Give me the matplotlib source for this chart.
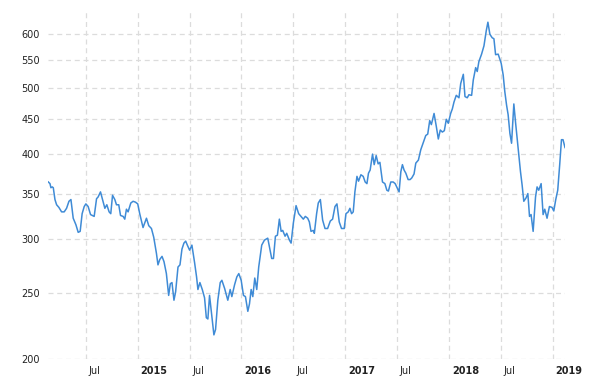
import matplotlib as mpl
mpl.use('Agg')
import numpy as np
import matplotlib.pyplot as plt
from matplotlib.transforms import ScaledTranslation

mpl.rcParams.update({
    'font.family': 'DejaVu Sans',
    'font.size': 7,
})

# time as decimal year, price
t_year = [
    2014.138, 2014.154, 2014.163, 2014.176, 2014.186, 2014.202, 2014.218, 2014.240,
    2014.266, 2014.291, 2014.314, 2014.337, 2014.356, 2014.378, 2014.404, 2014.426,
    2014.445, 2014.464, 2014.484, 2014.500, 2014.522, 2014.545, 2014.580, 2014.603,
    2014.618, 2014.641, 2014.661, 2014.683, 2014.702, 2014.724, 2014.740, 2014.757,
    2014.779, 2014.795, 2014.817, 2014.834, 2014.859, 2014.875, 2014.891, 2014.907,
    2014.933, 2014.955, 2014.978, 2015.000, 2015.019, 2015.051, 2015.084, 2015.106,
    2015.132, 2015.154, 2015.180, 2015.195, 2015.212, 2015.234, 2015.253, 2015.276,
    2015.298, 2015.314, 2015.330, 2015.349, 2015.365, 2015.388, 2015.407, 2015.426,
    2015.445, 2015.462, 2015.478, 2015.500, 2015.522, 2015.548, 2015.567, 2015.580,
    2015.599, 2015.622, 2015.644, 2015.661, 2015.676, 2015.692, 2015.714, 2015.734,
    2015.750, 2015.772, 2015.795, 2015.811, 2015.837, 2015.868, 2015.891, 2015.907,
    2015.933, 2015.955, 2015.974, 2015.997, 2016.019, 2016.038, 2016.061, 2016.077,
    2016.093, 2016.109, 2016.128, 2016.147, 2016.166, 2016.180, 2016.195, 2016.221,
    2016.253, 2016.276, 2016.291, 2016.308, 2016.327, 2016.346, 2016.365, 2016.382,
    2016.397, 2016.420, 2016.436, 2016.462, 2016.478, 2016.500, 2016.526, 2016.551,
    2016.574, 2016.596, 2016.615, 2016.638, 2016.654, 2016.670, 2016.692, 2016.702,
    2016.724, 2016.740, 2016.760, 2016.782, 2016.805, 2016.830, 2016.856, 2016.878,
    2016.901, 2016.920, 2016.942, 2016.964, 2016.990, 2017.007, 2017.029, 2017.045,
    2017.061, 2017.077, 2017.093, 2017.113, 2017.128, 2017.151, 2017.173, 2017.192,
    2017.209, 2017.224, 2017.240, 2017.263, 2017.279, 2017.298, 2017.317, 2017.334,
    2017.359, 2017.382, 2017.401, 2017.416, 2017.439, 2017.462, 2017.481, 2017.503,
    2017.519, 2017.536, 2017.551, 2017.567, 2017.584, 2017.606, 2017.625, 2017.641,
    2017.663, 2017.680, 2017.705, 2017.728, 2017.750, 2017.776, 2017.795, 2017.814,
    2017.830, 2017.856, 2017.878, 2017.897, 2017.916, 2017.936, 2017.955, 2017.974,
    2017.993, 2018.016, 2018.032, 2018.048, 2018.070, 2018.096, 2018.113, 2018.138,
    2018.154, 2018.176, 2018.192, 2018.218, 2018.234, 2018.257, 2018.272, 2018.288,
    2018.314, 2018.337, 2018.359, 2018.375, 2018.394, 2018.416, 2018.433, 2018.449,
    2018.474, 2018.503, 2018.522, 2018.538, 2018.555, 2018.570, 2018.587, 2018.603,
    2018.625, 2018.641, 2018.657, 2018.673, 2018.689, 2018.705, 2018.721, 2018.743,
    2018.760, 2018.776, 2018.791, 2018.811, 2018.834, 2018.849, 2018.865, 2018.888,
    2018.907, 2018.923, 2018.945, 2018.968, 2018.993, 2019.010, 2019.029, 2019.048,
    2019.067, 2019.084, 2019.099, 2019.118,
]
price = [
    364, 362, 357, 358, 357, 343, 337, 334,
    329, 329, 333, 341, 343, 322, 315, 307,
    308, 327, 335, 338, 335, 326, 324, 344,
    346, 352, 343, 333, 337, 329, 327, 348,
    343, 337, 337, 325, 324, 321, 332, 329,
    339, 341, 340, 338, 327, 312, 322, 314,
    311, 302, 286, 275, 280, 283, 278, 267,
    248, 258, 259, 244, 251, 273, 275, 290,
    296, 298, 294, 289, 294, 277, 264, 253,
    259, 253, 246, 230, 229, 248, 231, 217,
    221, 244, 259, 261, 254, 244, 253, 247,
    257, 264, 267, 261, 248, 247, 235, 241,
    253, 247, 263, 253, 273, 283, 294, 299,
    301, 289, 281, 281, 303, 304, 321, 308,
    309, 303, 306, 299, 296, 317, 336, 327,
    324, 321, 324, 322, 318, 308, 309, 306,
    327, 339, 343, 320, 311, 311, 319, 321,
    335, 338, 318, 311, 311, 327, 329, 333,
    327, 329, 352, 371, 365, 373, 371, 364,
    362, 375, 379, 400, 386, 398, 387, 389,
    364, 362, 354, 353, 364, 364, 362, 356,
    352, 377, 386, 379, 375, 367, 367, 369,
    374, 388, 392, 406, 415, 426, 428, 448,
    442, 459, 439, 421, 434, 431, 433, 450,
    444, 459, 466, 477, 488, 484, 508, 524,
    486, 484, 489, 488, 514, 536, 529, 547,
    561, 577, 607, 625, 600, 593, 591, 560,
    561, 544, 523, 494, 472, 457, 429, 415,
    474, 446, 422, 399, 377, 360, 341, 345,
    350, 324, 326, 308, 346, 358, 354, 362,
    326, 332, 322, 335, 334, 330, 343, 354,
    386, 420, 420, 409,
]

y_ticks = [200, 250, 300, 350, 400, 450, 500, 550, 600]
x_ticks = [2014.5, 2015, 2015.5, 2016, 2016.5, 2017, 2017.5, 2018, 2018.5, 2019]
x_labels = ['Jul', '2015', 'Jul', '2016', 'Jul', '2017', 'Jul', '2018', 'Jul', '2019']

fig = plt.figure(figsize=(6, 3.78), dpi=100)
ax = fig.add_axes([0.08, 0.0503, 0.862, 0.918])

ax.plot(t_year, price, color='#3f8bd6', lw=1.1)

ax.set_yscale('log')
ax.set_ylim(200, 647)
ax.set_xlim(2014.135, 2019.12)
ax.yaxis.set_minor_locator(mpl.ticker.NullLocator())
ax.set_yticks(y_ticks)
ax.set_yticklabels([str(v) for v in y_ticks])
ax.set_xticks(x_ticks)
ax.set_xticklabels(x_labels)

ax.grid(True, color='#dcdcdc', linestyle=(0, (4, 3)), linewidth=0.9)
ax.set_axisbelow(True)
for s in ax.spines.values():
    s.set_visible(False)
ax.tick_params(length=0, colors='#222222')
ax.tick_params(axis='y', pad=6)
ax.tick_params(axis='x', pad=5)

offset = ScaledTranslation(2 / 72, 0, fig.dpi_scale_trans)
for lab in ax.get_xticklabels():
    lab.set_ha('left')
    lab.set_transform(lab.get_transform() + offset)
    if lab.get_text() != 'Jul':
        lab.set_fontweight('bold')

plt.savefig('out.png', dpi=100)
